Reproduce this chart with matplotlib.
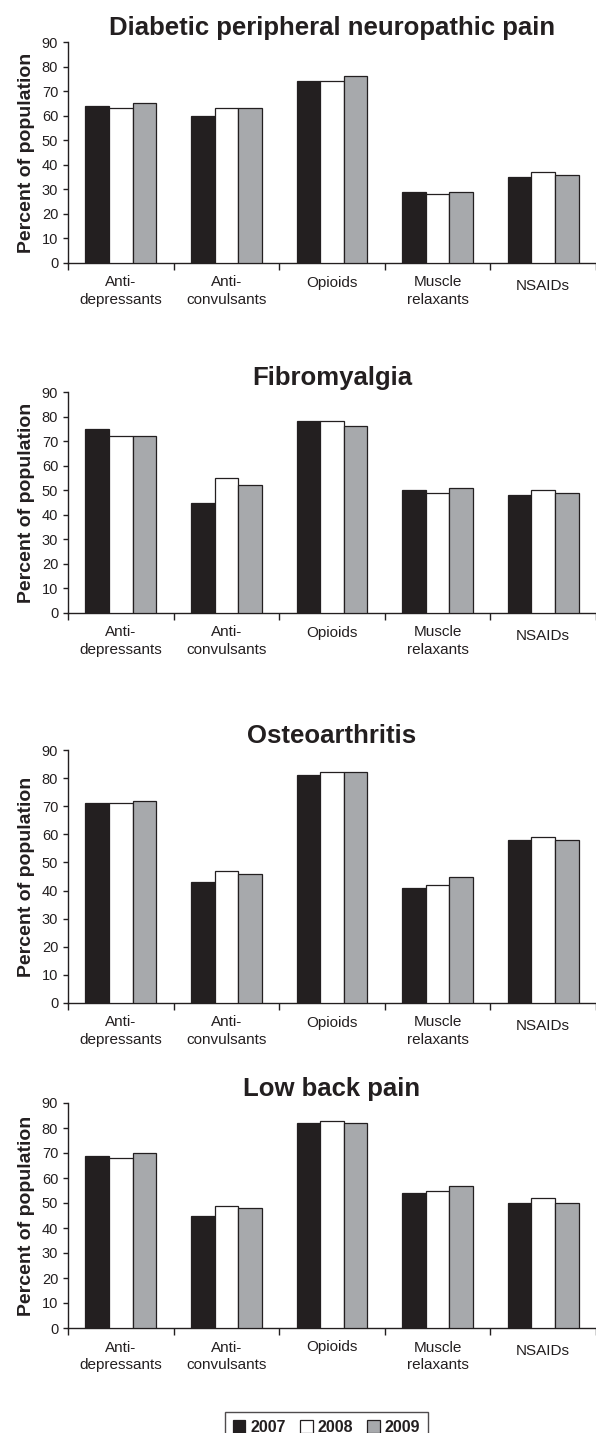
import numpy as np
import matplotlib
matplotlib.use("Agg")
import matplotlib.pyplot as plt
from matplotlib.patches import Patch

plt.rcParams["font.family"] = ["Liberation Sans", "DejaVu Sans"]

# data
categories = ["Anti-\ndepressants", "Anti-\nconvulsants", "Opioids", "Muscle\nrelaxants", "NSAIDs"]
years = ["2007", "2008", "2009"]

titles = ["Diabetic peripheral neuropathic pain", "Fibromyalgia", "Osteoarthritis", "Low back pain"]

dpn = [[64, 60, 74, 29, 35],
       [63, 63, 74, 28, 37],
       [65, 63, 76, 29, 36]]
fibro = [[75, 45, 78, 50, 48],
         [72, 55, 78, 49, 50],
         [72, 52, 76, 51, 49]]
oa = [[71, 43, 81, 41, 58],
      [71, 47, 82, 42, 59],
      [72, 46, 82, 45, 58]]
lbp = [[69, 45, 82, 54, 50],
       [68, 49, 83, 55, 52],
       [70, 48, 82, 57, 50]]

colors = ["#231f20", "#ffffff", "#a7a9ac"]
dark = "#231f20"

W, H = 596, 1433
fig = plt.figure(figsize=(W / 100, H / 100), dpi=100)

# axes boxes in pixels: left, top(90), right, bottom(0)
boxes = [(68, 42, 596, 263),
         (68, 392, 596, 613),
         (68, 750, 596, 1003),
         (68, 1103, 596, 1328)]

panels = [dpn, fibro, oa, lbp]

for (l, t, r, b), title, data in zip(boxes, titles, panels):
    ax = fig.add_axes([l / W, 1 - b / H, (r - l) / W, (b - t) / H])
    x = np.arange(len(categories))
    w = 0.223
    for i, (vals, c) in enumerate(zip(data, colors)):
        ax.bar(x + (i - 1) * w, vals, w, color=c, edgecolor=dark, linewidth=0.9, zorder=3)
    ax.set_xlim(-0.5, len(categories) - 0.5)
    ax.set_ylim(0, 90)
    ax.set_yticks(range(0, 91, 10))
    ax.set_xticks(np.arange(len(categories) + 1) - 0.5)
    ax.set_xticklabels([])
    ax.tick_params(axis="x", length=5, direction="out", color=dark, width=1)
    ax.tick_params(axis="y", length=3.6, direction="out", color=dark, width=1,
                   labelsize=10.5, labelcolor=dark, pad=3.5)
    for i, cat in enumerate(categories):
        yoff = 11.5 if cat == "NSAIDs" else 9
        ax.annotate(cat, xy=(i, 0), xycoords=("data", "axes fraction"),
                    xytext=(0, -yoff), textcoords="offset points",
                    ha="center", va="top", fontsize=11, color=dark, linespacing=1.3)
    for s in ["top", "right"]:
        ax.spines[s].set_visible(False)
    for s in ["left", "bottom"]:
        ax.spines[s].set_color(dark)
        ax.spines[s].set_linewidth(1)
    ax.set_ylabel("Percent of population", fontsize=14, fontweight="bold", color=dark, labelpad=5)
    ax.set_title(title, fontsize=18.5, fontweight="bold", color=dark, pad=5)

handles = [Patch(facecolor=c, edgecolor=dark, linewidth=0.9) for c in colors]
leg = fig.legend(handles, years, loc="upper center", bbox_to_anchor=(326.5 / W, 1 - 1404 / H),
                 ncol=3, frameon=True, fancybox=False, edgecolor=dark,
                 prop={"weight": "bold", "size": 11.5}, handlelength=0.8, handleheight=0.8,
                 handletextpad=0.3, columnspacing=0.9, borderpad=0.5)
leg.get_frame().set_linewidth(1)
for txt in leg.get_texts():
    txt.set_color(dark)

fig.savefig("out.png", dpi=100)
